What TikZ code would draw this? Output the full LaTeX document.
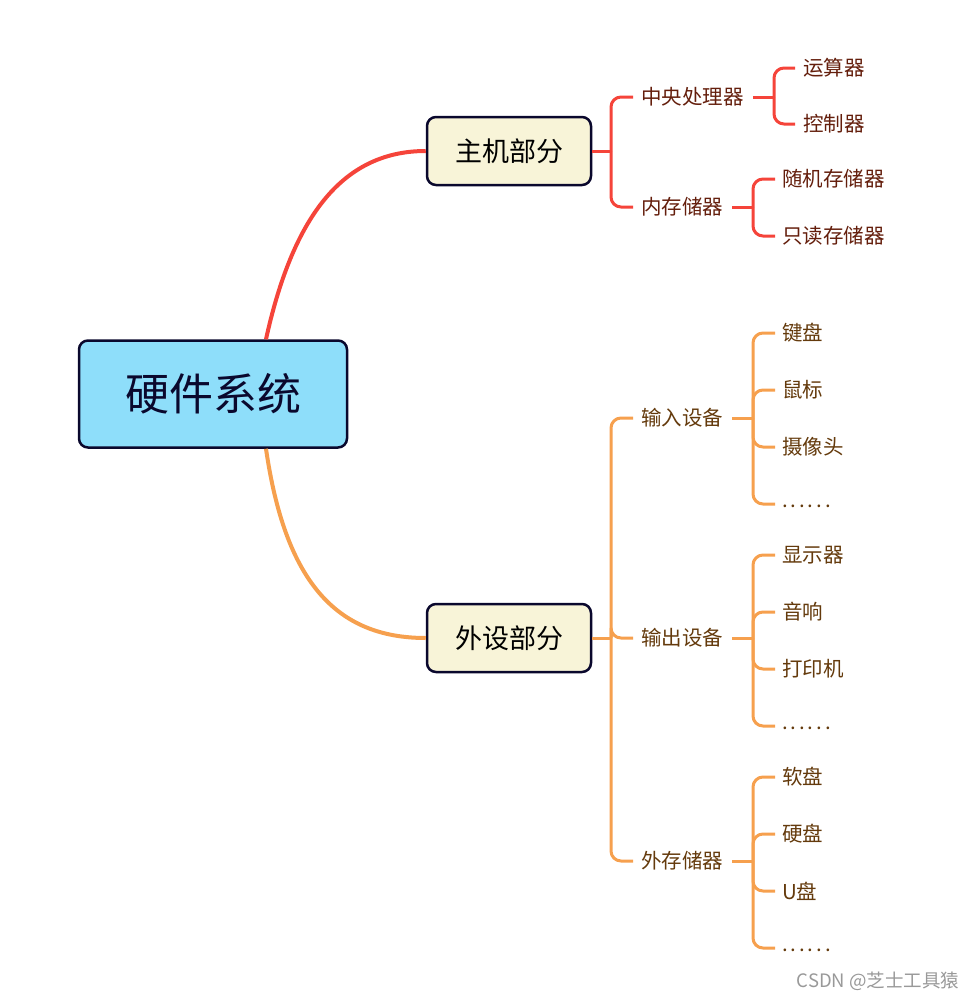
\documentclass[tikz,border=0pt]{standalone}
\usepackage{fontspec}
\newfontfamily\cjk{Noto Sans CJK SC}
\usetikzlibrary{positioning}

\definecolor{rootblue}{RGB}{142,222,250}
\definecolor{boxcream}{RGB}{248,244,216}
\definecolor{boxline}{RGB}{10,8,45}
\definecolor{redline}{RGB}{245,68,58}
\definecolor{orangeline}{RGB}{246,160,78}
\definecolor{redtext}{RGB}{100,30,12}
\definecolor{orangetext}{RGB}{100,58,12}
\newcommand{\moredots}{{\addfontfeatures{LetterSpace=14}\rule{0pt}{0.32em}......}}

\begin{document}
\begin{tikzpicture}[
			x=1pt, y=-1pt,
			root/.style = {draw=boxline, line width=2.5pt, rounded corners=9pt, fill=rootblue,
				minimum width=268pt, minimum height=107pt, text=boxline, font=\cjk\fontsize{44}{50}\selectfont},
			part/.style = {draw=boxline, line width=2.5pt, rounded corners=9pt, fill=boxcream,
				minimum width=164pt, minimum height=68pt, font=\cjk\fontsize{27}{32}\selectfont},
			item/.style = {anchor=west, inner sep=0pt, font=\cjk\fontsize{20.5}{24}\selectfont},
			stem/.style = {line width=3pt},
			fork/.style = {line width=3pt, rounded corners=10pt},
			curve/.style = {line width=4pt}
		]
		\useasboundingbox (0,0) rectangle (978,1001);
		\node[root] (hw) at (213,394) {硬件系统};
		% Level 1.
		\node[part] (host) at (509,151) {主机部分};
		\node[part] (peri) at (509,638) {外设部分};
		
		\draw[curve, redline] ([xshift=53pt]hw.north) .. controls +(26,-118) and +(-86,0) .. (host.west);
		\draw[curve, orangeline] ([xshift=53pt]hw.south) .. controls +(19,131) and +(-91,0) .. (peri.west);
		
		% Level 2.
		\foreach \name/\txt/\y in {cpu/中央处理器/97, mem/内存储器/207}
			\node[item, text=redtext] (\name) at (641,\y) {\txt};
		\foreach \name/\txt/\y in {in/输入设备/418, out/输出设备/638, ext/外存储器/861}
			\node[item, text=orangetext] (\name) at (641,\y) {\txt};
		
		\draw[stem, redline] (host.east) -- (611,151);
		\draw[fork, redline] (611,151) |- ([xshift=-8pt]cpu.west);
		\draw[fork, redline] (611,151) |- ([xshift=-8pt]mem.west);
		\draw[stem, orangeline] (peri.east) -- (611,638);
		\draw[fork, orangeline] (611,638) |- ([xshift=-8pt]in.west);
		\draw[fork, orangeline] (611,638) |- ([xshift=-8pt]out.west);
		\draw[fork, orangeline] (611,638) |- ([xshift=-8pt]ext.west);
		
		% Level 3.
		\draw[stem, redline] ([xshift=9pt]cpu.east) -- (774,97);
		\foreach \txt/\y [count=\i] in {运算器/68, 控制器/124} {
			\node[item, text=redtext] (cpu\i) at (803,\y) {\txt};
			\draw[fork, redline] (774,97) |- ([xshift=-8pt]cpu\i.west);
		}
		\draw[stem, redline] ([xshift=9pt]mem.east) -- (753,207);
		\foreach \txt/\y [count=\i] in {随机存储器/179, 只读存储器/236} {
			\node[item, text=redtext] (mem\i) at (782,\y) {\txt};
			\draw[fork, redline] (753,207) |- ([xshift=-7pt]mem\i.west);
		}
		\draw[stem, orangeline] ([xshift=9pt]in.east) -- (753,418);
		\foreach \txt/\y [count=\i] in {键盘/333, 鼠标/390, 摄像头/447, \moredots/504} {
			\node[item, text=orangetext] (in\i) at (782,\y) {\txt};
			\draw[fork, orangeline] (753,418) |- ([xshift=-7pt]in\i.west);
		}
		\draw[stem, orangeline] ([xshift=9pt]out.east) -- (753,638);
		\foreach \txt/\y [count=\i] in {显示器/555, 音响/612, 打印机/669, \moredots/726} {
			\node[item, text=orangetext] (out\i) at (782,\y) {\txt};
			\draw[fork, orangeline] (753,638) |- ([xshift=-7pt]out\i.west);
		}
		\draw[stem, orangeline] ([xshift=9pt]ext.east) -- (753,861);
		\foreach \txt/\y [count=\i] in {软盘/777, 硬盘/834, U盘/891, \moredots/948} {
			\node[item, text=orangetext] (ext\i) at (782,\y) {\txt};
			\draw[fork, orangeline] (753,861) |- ([xshift=-7pt]ext\i.west);
		}
		
		\node[anchor=east, text=black!40, font=\cjk\fontsize{18.5}{21}\selectfont] (mark) at (963,981) {CSDN @芝士工具猿};
	\end{tikzpicture}
\end{document}
